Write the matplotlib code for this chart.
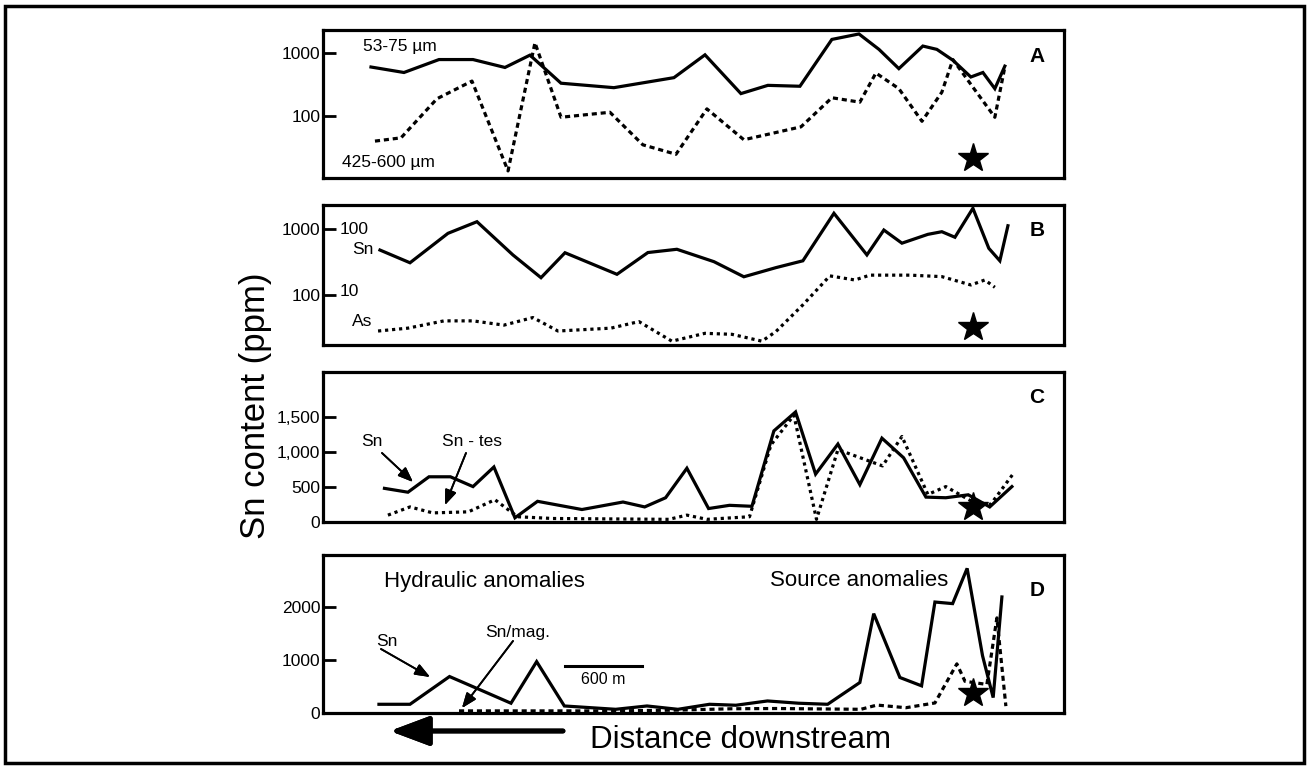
import numpy as np
import matplotlib
matplotlib.use("Agg")
import matplotlib.pyplot as plt
from matplotlib.patches import Rectangle

plt.rcParams['font.family'] = ['Liberation Sans', 'DejaVu Sans']

W, H = 1310, 770

# distance along the stream, metres from left edge of the panels
# --- A: two size fractions (ppm Sn)
a_fine_x = [374, 631, 904, 1169, 1418, 1613, 1855, 2267, 2735, 2977, 3257, 3467,
            3717, 3966, 4177, 4333, 4488, 4675, 4784, 4909, 5049, 5143, 5236, 5314]
a_fine = [600, 490, 790, 790, 590, 930, 330, 280, 405, 940, 225, 305,
          295, 1660, 2030, 1150, 565, 1300, 1150, 770, 415, 490, 270, 620]
a_coarse_x = [405, 608, 888, 1161, 1442, 1652, 1855, 2236, 2493, 2751, 2992, 3280,
              3725, 3966, 4184, 4309, 4488, 4668, 4823, 4909, 5065, 5236, 5314]
a_coarse = [39, 44, 186, 357, 13, 1470, 94, 113, 34, 24, 128, 41,
            66, 193, 164, 481, 270, 81, 237, 790, 285, 94, 600]

# --- B: Sn and As (As on its own scale, x10 on the Sn axis)
b_sn_x = [444, 678, 974, 1200, 1480, 1699, 1886, 2291, 2532, 2758, 3047, 3280, 3530,
          3740, 3982, 4239, 4371, 4512, 4714, 4823, 4925, 5065, 5189, 5275, 5338]
b_sn = [480, 308, 860, 1290, 405, 183, 437, 206, 440, 493, 320, 189, 260,
        330, 1730, 405, 965, 610, 830, 910, 750, 2060, 510, 330, 1120]
b_as_x = [429, 662, 943, 1169, 1410, 1636, 1831, 2244, 2462, 2719, 2977, 3187,
          3421, 3530, 3740, 3950, 4145, 4262, 4574, 4823, 5049, 5158, 5236]
b_as = [2.85, 3.15, 4.06, 4.06, 3.5, 4.56, 2.85, 3.15, 3.96, 2.0, 2.63, 2.54,
        2.0, 2.8, 7.1, 19.5, 16.9, 20, 20, 19, 14.2, 16.9, 13.1]

# --- C: Sn and Sn in tes fraction
c_sn_x = [479, 662, 826, 993, 1169, 1332, 1496, 1672, 2018, 2338, 2507, 2670, 2836, 3005,
          3168, 3343, 3514, 3683, 3839, 4013, 4184, 4356, 4525, 4699, 4854, 5029, 5196, 5369]
c_sn = [480, 425, 645, 645, 505, 785, 60, 295, 178, 285, 215, 346, 767, 192,
        238, 224, 1300, 1570, 683, 1112, 533, 1196, 916, 355, 346, 388, 215, 505]
c_tes_x = [506, 678, 855, 1133, 1340, 1516, 1792, 2696, 2836, 2992, 3324,
           3491, 3670, 3846, 4013, 4361, 4512, 4714, 4854, 5065, 5203, 5377]
c_tes = [98, 215, 130, 145, 318, 75, 50, 38, 98, 38, 75,
         1100, 1524, 38, 1033, 800, 1220, 393, 505, 285, 250, 683]

# --- D: Sn and Sn/mag.
d_sn_x = [436, 678, 986, 1202, 1465, 1665, 1881, 2281, 2525, 2766, 3012, 3218, 3464,
          3707, 3933, 4184, 4292, 4496, 4665, 4769, 4907, 5020, 5140, 5223, 5291]
d_sn = [165, 165, 690, 463, 185, 972, 133, 70, 133, 70, 165, 147, 228,
        185, 165, 577, 1880, 672, 514, 2100, 2070, 2737, 1085, 292, 2196]
d_mag_x = [1060, 2275, 2766, 3179, 3530, 4192, 4317, 4543, 4769, 4940, 5003, 5174, 5252, 5322]
d_mag = [40, 40, 55, 80, 85, 70, 150, 100, 190, 930, 600, 540, 1800, 130]

# anomaly source (star) in each panel
star_x = 5065
star_y = [21, 33, 210, 380]


def px(x, y):
    return x / W, 1 - y / H


fig = plt.figure(figsize=(W / 100, H / 100), dpi=100)

# panel boxes in pixels: top, bottom
boxes = [(30, 178), (205, 345), (372, 522), (555, 713)]
axes = []
for top, bot in boxes:
    ax = fig.add_axes([323 / W, 1 - bot / H, 741 / W, (bot - top) / H])
    for s in ax.spines.values():
        s.set_linewidth(2.3)
    ax.set_xlim(0, 5775)
    ax.set_xticks([])
    ax.tick_params(axis='y', direction='in', length=9, width=2, pad=2, labelsize=12.5)
    ax.minorticks_off()
    axes.append(ax)

solid = dict(color='black', lw=2.3, solid_joinstyle='miter')
dashes = dict(color='black', lw=2.3, linestyle=(0, (1.6, 1.2)))
dots = dict(color='black', lw=2.3, linestyle=(0, (1, 1.2)))

# A
ax = axes[0]
ax.set_yscale('log')
ax.set_ylim(10, 2350)
ax.plot(a_fine_x, a_fine, **solid)
ax.plot(a_coarse_x, a_coarse, **dashes)
ax.set_yticks([100, 1000], ['100', '1000'])
ax.minorticks_off()

# B
ax = axes[1]
ax.set_yscale('log')
ax.set_ylim(17.5, 2310)
ax.plot(b_sn_x, b_sn, **solid)
ax.plot(b_as_x, np.array(b_as) * 10, **dots)
ax.set_yticks([100, 1000], ['100', '1000'])
ax.minorticks_off()

# C
ax = axes[2]
ax.set_ylim(0, 2140)
ax.plot(c_sn_x, c_sn, **solid)
ax.plot(c_tes_x, c_tes, **dots)
ax.set_yticks([0, 500, 1000, 1500], ['0', '500', '1,000', '1,500'])

# D
ax = axes[3]
ax.set_ylim(0, 2990)
ax.plot(d_sn_x, d_sn, **solid)
ax.plot(d_mag_x, d_mag, **dashes)
ax.set_yticks([0, 1000, 2000], ['0', '1000', '2000'])

for ax, sy in zip(axes, star_y):
    ax.plot(star_x, sy, marker='*', ms=22, color='black', mec='black')

# panel letters
for lab, y in zip('ABCD', [57, 230, 398, 591]):
    fig.text(*px(1037, y), lab, fontsize=15, fontweight='bold', ha='center', va='center')

# in-panel labels
fig.text(*px(363, 47), '53-75 µm', fontsize=12.5, va='center')
fig.text(*px(342, 162), '425-600 µm', fontsize=12.5, va='center')
fig.text(*px(340, 230), '100', fontsize=12.5, va='center')
fig.text(*px(352, 250), 'Sn', fontsize=12.5, va='center')
fig.text(*px(340, 292), '10', fontsize=12.5, va='center')
fig.text(*px(352, 322), 'As', fontsize=12.5, va='center')

arr = dict(arrowstyle='-|>,head_length=0.9,head_width=0.35', color='black', lw=1.3,
           shrinkA=0, shrinkB=0)
fig.text(*px(372, 442), 'Sn', fontsize=12.5, ha='center', va='center')
fig.add_artist(plt.annotate('', xy=px(413, 482), xytext=px(382, 453),
                            xycoords='figure fraction', arrowprops=arr))
fig.text(*px(472, 442), 'Sn - tes', fontsize=12.5, ha='center', va='center')
fig.add_artist(plt.annotate('', xy=px(445, 505), xytext=px(466, 453),
                            xycoords='figure fraction', arrowprops=arr))

fig.text(*px(384, 581), 'Hydraulic anomalies', fontsize=16, va='center')
fig.text(*px(770, 581), 'Source anomalies', fontsize=16, va='center')
fig.text(*px(387, 642), 'Sn', fontsize=12.5, ha='center', va='center')
fig.add_artist(plt.annotate('', xy=px(430, 677), xytext=px(381, 649),
                            xycoords='figure fraction', arrowprops=arr))
fig.text(*px(518, 633), 'Sn/mag.', fontsize=12.5, ha='center', va='center')
fig.add_artist(plt.annotate('', xy=px(462, 708), xytext=px(513, 641),
                            xycoords='figure fraction', arrowprops=arr))

# scale bar
fig.add_artist(plt.Line2D([565 / W, 642 / W], [1 - 666 / H] * 2, color='black', lw=2.2))
fig.text(*px(603, 679), '600 m', fontsize=11.5, ha='center', va='center')

# axis titles
fig.text(*px(256, 406), 'Sn content (ppm)', fontsize=25, rotation=90,
         ha='center', va='center')
fig.text(*px(590, 740), 'Distance downstream', fontsize=22.5, va='center')
fig.add_artist(plt.annotate('', xy=px(390, 731), xytext=px(563, 731),
                            xycoords='figure fraction',
                            arrowprops=dict(arrowstyle='-|>,head_length=1.2,head_width=0.45',
                                            color='black', lw=3.5, mutation_scale=20,
                                            shrinkA=0, shrinkB=0)))

# outer frame
fig.add_artist(Rectangle((5 / W, 1 - 763 / H), 1299 / W, 757 / H, fill=False,
                         lw=2.5, color='black', transform=fig.transFigure))

fig.savefig('out.png', dpi=100)
